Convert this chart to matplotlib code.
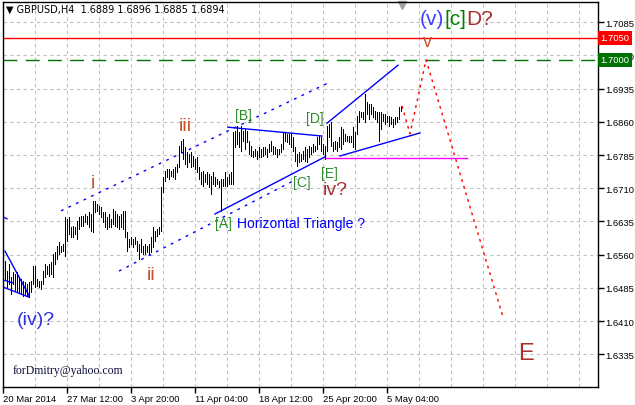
import matplotlib
matplotlib.use("Agg")
import matplotlib.pyplot as plt
import matplotlib.transforms as mtransforms

# H4 bars, one per index (2 px apart in the original chart)
highs = [
    1.6546, 1.6523, 1.6539, 1.6510, 1.6521, 1.6516, 1.6521, 1.6510, 1.6505, 1.6501,
    1.6498, 1.6494, 1.6498, 1.6501, 1.6534, 1.6534, 1.6505, 1.6501, 1.6501, 1.6523,
    1.6539, 1.6534, 1.6539, 1.6543, 1.6562, 1.6566, 1.6580, 1.6589, 1.6580, 1.6584,
    1.6645, 1.6641, 1.6645, 1.6623, 1.6625, 1.6623, 1.6636, 1.6645, 1.6647, 1.6647,
    1.6652, 1.6647, 1.6656, 1.6652, 1.6681, 1.6681, 1.6675, 1.6670, 1.6668, 1.6656,
    1.6656, 1.6645, 1.6652, 1.6641, 1.6663, 1.6659, 1.6652, 1.6647, 1.6652, 1.6659,
    1.6659, 1.6611, 1.6595, 1.6600, 1.6595, 1.6600, 1.6591, 1.6584, 1.6595, 1.6580,
    1.6584, 1.6580, 1.6584, 1.6600, 1.6623, 1.6613, 1.6618, 1.6623, 1.6713, 1.6736,
    1.6749, 1.6754, 1.6754, 1.6749, 1.6754, 1.6758, 1.6765, 1.6806, 1.6817, 1.6821,
    1.6803, 1.6792, 1.6787, 1.6792, 1.6783, 1.6776, 1.6781, 1.6758, 1.6747, 1.6749,
    1.6742, 1.6747, 1.6742, 1.6738, 1.6747, 1.6736, 1.6731, 1.6726, 1.6731, 1.6731,
    1.6747, 1.6736, 1.6742, 1.6747, 1.6837, 1.6839, 1.6851, 1.6837, 1.6851, 1.6839,
    1.6844, 1.6839, 1.6817, 1.6806, 1.6794, 1.6799, 1.6794, 1.6803, 1.6799, 1.6803,
    1.6803, 1.6799, 1.6810, 1.6817, 1.6806, 1.6803, 1.6799, 1.6799, 1.6810, 1.6837,
    1.6837, 1.6833, 1.6833, 1.6833, 1.6826, 1.6803, 1.6787, 1.6792, 1.6787, 1.6794,
    1.6803, 1.6799, 1.6806, 1.6803, 1.6810, 1.6806, 1.6826, 1.6828, 1.6826, 1.6810,
    1.6806, 1.6851, 1.6855, 1.6860, 1.6815, 1.6817, 1.6815, 1.6826, 1.6848, 1.6844,
    1.6833, 1.6828, 1.6828, 1.6828, 1.6848, 1.6837, 1.6873, 1.6885, 1.6882, 1.6882,
    1.6923, 1.6905, 1.6900, 1.6900, 1.6894, 1.6885, 1.6882, 1.6882, 1.6882, 1.6878,
    1.6878, 1.6873, 1.6873, 1.6871, 1.6867, 1.6871, 1.6871, 1.6894, 1.6896,
]
lows = [
    1.6505, 1.6487, 1.6494, 1.6471, 1.6494, 1.6478, 1.6478, 1.6476, 1.6471, 1.6467,
    1.6471, 1.6467, 1.6464, 1.6476, 1.6494, 1.6487, 1.6489, 1.6487, 1.6482, 1.6494,
    1.6510, 1.6516, 1.6512, 1.6516, 1.6510, 1.6539, 1.6550, 1.6562, 1.6566, 1.6568,
    1.6557, 1.6591, 1.6607, 1.6600, 1.6600, 1.6607, 1.6595, 1.6618, 1.6625, 1.6625,
    1.6634, 1.6629, 1.6623, 1.6613, 1.6611, 1.6656, 1.6659, 1.6652, 1.6645, 1.6634,
    1.6623, 1.6618, 1.6623, 1.6623, 1.6629, 1.6625, 1.6623, 1.6618, 1.6623, 1.6618,
    1.6600, 1.6568, 1.6577, 1.6584, 1.6577, 1.6584, 1.6568, 1.6550, 1.6566, 1.6562,
    1.6562, 1.6566, 1.6562, 1.6566, 1.6577, 1.6591, 1.6602, 1.6607, 1.6613, 1.6702,
    1.6726, 1.6736, 1.6731, 1.6738, 1.6736, 1.6731, 1.6747, 1.6758, 1.6792, 1.6776,
    1.6765, 1.6758, 1.6769, 1.6758, 1.6760, 1.6754, 1.6747, 1.6731, 1.6720, 1.6715,
    1.6724, 1.6720, 1.6713, 1.6697, 1.6720, 1.6715, 1.6720, 1.6713, 1.6659, 1.6715,
    1.6715, 1.6715, 1.6720, 1.6720, 1.6720, 1.6803, 1.6810, 1.6803, 1.6794, 1.6817,
    1.6799, 1.6815, 1.6787, 1.6783, 1.6781, 1.6783, 1.6776, 1.6781, 1.6781, 1.6783,
    1.6787, 1.6781, 1.6792, 1.6794, 1.6787, 1.6787, 1.6781, 1.6787, 1.6792, 1.6799,
    1.6817, 1.6815, 1.6810, 1.6803, 1.6794, 1.6772, 1.6760, 1.6769, 1.6772, 1.6776,
    1.6772, 1.6769, 1.6781, 1.6787, 1.6792, 1.6794, 1.6799, 1.6810, 1.6794, 1.6787,
    1.6776, 1.6794, 1.6826, 1.6806, 1.6794, 1.6799, 1.6794, 1.6803, 1.6799, 1.6810,
    1.6817, 1.6817, 1.6815, 1.6815, 1.6803, 1.6799, 1.6833, 1.6860, 1.6871, 1.6867,
    1.6860, 1.6878, 1.6867, 1.6878, 1.6871, 1.6867, 1.6860, 1.6817, 1.6844, 1.6862,
    1.6855, 1.6860, 1.6851, 1.6855, 1.6848, 1.6855, 1.6860, 1.6867, 1.6885,
]

date_pos = [-1, 31, 63, 95, 127, 159, 191]
date_labels = ['20 Mar 2014', '27 Mar 12:00', '3 Apr 20:00', '11 Apr 04:00',
               '18 Apr 12:00', '25 Apr 20:00', '5 May 04:00']
price_ticks = [1.7085, 1.7010, 1.6935, 1.6860, 1.6785, 1.6710, 1.6635,
               1.6560, 1.6485, 1.6410, 1.6335]

level_red = 1.7050
level_green = 1.7000

# wave markup (bar index, price)
channel_upper = ([28, 162.5], [1.6659, 1.6950])
channel_lower = ([57, 146], [1.6523, 1.6731])
tri_bd = ([111.5, 158.5], [1.6848, 1.6828])
tri_ac = ([105, 160], [1.6652, 1.6781])
wedge_upper = ([161, 196.5], [1.6857, 1.6988])
wedge_lower = ([167.5, 207.5], [1.6783, 1.6835])
iv_lines = [([0, 12], [1.6568, 1.6468]), ([-1, 12], [1.6487, 1.6464]),
            ([-1, 4], [1.6503, 1.6496]), ([-1, 1], [1.6645, 1.6641])]
e_level = ([160, 231], [1.6778, 1.6778])
forecast = ([198.5, 202.5, 210.5, 249], [1.6896, 1.6833, 1.7000, 1.6419])

fig = plt.figure(figsize=(6.35, 4.06), dpi=100)
ax = fig.add_axes([3 / 635, 18 / 406, 595 / 635, 385 / 406])
ax.set_xlim(-1, 296.5)
ax.set_ylim(1.62611, 1.71308)

# grid
grid_kw = dict(color='#c0c0c0', lw=0.8, ls=(0, (3, 3)), zorder=0)
for p in price_ticks:
    ax.axhline(p, **grid_kw)
for gx in range(15, 296, 16):
    ax.axvline(gx, **grid_kw)

ax.axhline(level_red, color='#ff0000', lw=1.0, zorder=1)
ax.axhline(level_green, color='#007000', lw=1.0, ls=(0, (10, 6)), zorder=1)

blue = '#0000ff'
ax.plot(*channel_upper, color=blue, lw=1.0, ls=(0, (2, 4)))
ax.plot(*channel_lower, color=blue, lw=1.0, ls=(0, (2, 4)))
for seg in [tri_bd, tri_ac, wedge_upper, wedge_lower] + iv_lines:
    ax.plot(*seg, color=blue, lw=1.0)
ax.plot(*e_level, color='#ff00ff', lw=1.0)

idx = list(range(len(highs)))
ax.vlines(idx, lows, highs, color='black', lw=0.72, antialiased=False, zorder=3)

ax.plot(*forecast, color='#ff0000', lw=1.0, ls=(0, (2, 3)), zorder=4)

# labels
wave = '#c8502a'
dark = '#a83030'
green = '#2e8b2e'
lab = dict(family='Liberation Sans', ha='center', va='center')
ax.text(44, 1.6724, 'i', color=wave, fontsize=14, **lab)
ax.text(73, 1.6516, 'ii', color=wave, fontsize=14, **lab)
ax.text(90, 1.6851, 'iii', color=wave, fontsize=14, **lab)
ax.text(165, 1.6708, 'iv?', color=dark, fontsize=14, **lab)
ax.text(211, 1.7042, 'v', color=wave, fontsize=13, **lab)
ax.text(15.5, 1.6413, '(iv)?', color='#3030e0', fontsize=14, **lab)
ax.text(260.5, 1.6338, 'E', color=dark, fontsize=17, **lab)
for x, y, s in [(109, 1.6631, '[A]'), (119, 1.6876, '[B]'), (148.5, 1.6724, '[C]'),
                (155, 1.6869, '[D]'), (162, 1.6745, '[E]')]:
    ax.text(x, y, s, color=green, fontsize=10, **lab)
ax.text(116, 1.6631, 'Horizontal Triangle ?', color=blue, fontsize=10,
        family='Liberation Sans', ha='left', va='center')

t = ax.text(207.5, 1.7093, '(v)', color='#4040ff', fontsize=15,
            family='Liberation Sans', ha='left', va='center')
fig.canvas.draw()
t2 = ax.annotate('[c]', xycoords=t, xy=(1, 0), va='bottom', ha='left',
                 color='#008000', fontsize=15, family='Liberation Sans')
ax.annotate('D?', xycoords=t2, xy=(1, 0), va='bottom', ha='left',
            color=dark, fontsize=15, family='Liberation Sans')

ax.text(4, 1.62995, 'forDmitry@yahoo.com', color='#101040', fontsize=8.5,
        family='Liberation Serif', ha='left', va='center')

fig.text(6 / 635, 1 - 10 / 406, '\u25bc GBPUSD,H4  1.6889 1.6896 1.6885 1.6894',
         fontsize=7, family='DejaVu Sans', ha='left', va='center')
ax.plot([198.5], [1.7124], marker='v', color='#a0a0a0', ms=6, clip_on=False)

# axes
for s in ax.spines.values():
    s.set_color('black')
    s.set_linewidth(1.0)
ax.yaxis.tick_right()
ax.set_yticks(price_ticks)
ax.set_yticklabels([f'{p:.4f}' for p in price_ticks])
ax.set_xticks(date_pos)
ax.set_xticklabels(date_labels)
ax.tick_params(axis='both', direction='out', length=4, width=1, labelsize=6.8, pad=1)
for lbl in ax.get_xticklabels():
    lbl.set_ha('left')
    lbl.set_family('Liberation Sans')
for lbl in ax.get_yticklabels():
    lbl.set_family('Liberation Sans')

bt = mtransforms.blended_transform_factory(ax.transAxes, ax.transData)
ax.text(1.004, level_red, '1.7050', transform=bt, color='white', fontsize=6.8,
        family='Liberation Sans', ha='left', va='center', clip_on=False, zorder=10,
        bbox=dict(boxstyle='square,pad=0.25', fc='#ff0000', ec='none'))
ax.text(1.004, level_green, '1.7000', transform=bt, color='white', fontsize=6.8,
        family='Liberation Sans', ha='left', va='center', clip_on=False, zorder=10,
        bbox=dict(boxstyle='square,pad=0.25', fc='#007000', ec='none'))

fig.savefig('out.png', dpi=100)
